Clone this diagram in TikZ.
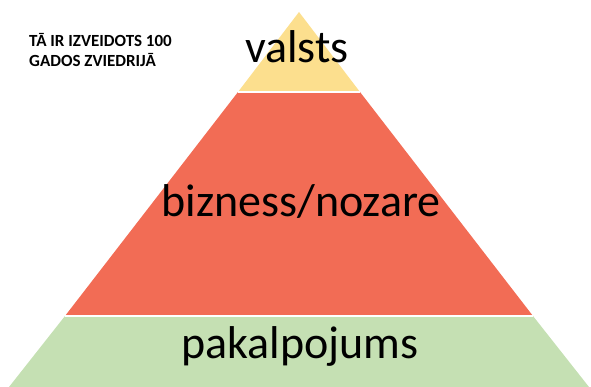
\documentclass[tikz,border=0pt]{standalone}
\usepackage{fontspec}
\setmainfont{Carlito}
\definecolor{topyellow}{HTML}{FCDF8E}
\definecolor{midred}{HTML}{F26C55}
\definecolor{lowgreen}{HTML}{C5E0B3}
\tikzset{
    tier/.style={draw=white, line width=1.5pt},
    biglabel/.style={anchor=base, inner sep=0pt, font=\fontsize{46}{50}\selectfont},
    note/.style={anchor=base west, inner sep=0pt, align=left, font=\bfseries\fontsize{17}{20}\selectfont}
}

\begin{document}
\begin{tikzpicture}[x=1pt, y=-1pt]
    \useasboundingbox (0,0) rectangle (591,387);
    \coordinate (apex) at (299,12);
    \coordinate (yl) at (238,92);
    \coordinate (yr) at (360,92);
    \coordinate (rl) at (65,316);
    \coordinate (rr) at (533,316);
    \coordinate (gl) at (9,387);
    \coordinate (gr) at (589,387);

    \fill[lowgreen] (rl) -- (rr) -- (gr) -- (gl) -- cycle;
    \fill[midred] (yl) -- (yr) -- (rr) -- (rl) -- cycle;
    \fill[topyellow] (apex) -- (yr) -- (yl) -- cycle;
    \draw[tier] (yl) -- (yr);
    \draw[tier] (rl) -- (rr);

    \node[biglabel] (valsts) at (297,63) {valsts};
    \node[biglabel] (bizness) at (301,217) {bizness/nozare};
    \node[biglabel] (pakalp) at (300,358) {pakalpojums};
    % base of a two-line node is the second line
    \node[note] (sweden) at (29,67) {TĀ IR IZVEIDOTS 100\\GADOS ZVIEDRIJĀ};
\end{tikzpicture}
\end{document}
